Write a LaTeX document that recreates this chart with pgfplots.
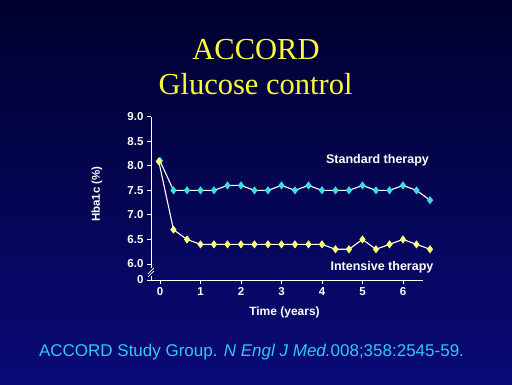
\documentclass[border=0pt]{standalone}
\usepackage{pgfplots}
\pgfplotsset{compat=1.18}
\usepackage{fontspec}
\setmainfont{Liberation Sans}
\newfontfamily\timesfont{Liberation Serif}
\definecolor{bgtop}{RGB}{0,0,46}
\definecolor{bgbot}{RGB}{10,10,120}
\definecolor{titleyellow}{RGB}{250,250,60}
\definecolor{citecyan}{RGB}{50,200,240}
\definecolor{stdcyan}{RGB}{60,220,230}
\definecolor{intyellow}{RGB}{255,255,120}
\begin{document}
\begin{tikzpicture}[x=1pt,y=1pt]
\shade[top color=bgtop, bottom color=bgbot] (0,0) rectangle (512,384);
\node[anchor=base, text=titleyellow, font=\timesfont\fontsize{30.5}{34}\selectfont] at (256,325) {ACCORD};
\node[anchor=base, text=titleyellow, font=\timesfont\fontsize{30.5}{34}\selectfont] at (255.5,290) {Glucose control};
\node[anchor=base, text=citecyan, font=\fontsize{17}{20}\selectfont] at (251.5,28) {ACCORD Study Group. \textit{N Engl J Med.}008;358:2545-59.};
\node[rotate=90, text=white, font=\bfseries\fontsize{11.5}{13}\selectfont] at (97,190) {Hba1c (\%)};
\node[text=white, font=\bfseries\fontsize{12}{14}\selectfont] at (284.5,72) {Time (years)};
\node[text=white, font=\bfseries\fontsize{12.5}{15}\selectfont] at (377.5,224) {Standard therapy};
\node[text=white, font=\bfseries\fontsize{12.5}{15}\selectfont] at (382,117) {Intensive therapy};
\begin{axis}[
  at={(151pt,104pt)}, anchor=south west,
  scale only axis, width=272pt, height=163.3pt,
  xmin=-0.222, xmax=6.494, ymin=5.674, ymax=9.0,
  clip=false,
  axis lines=left,
  axis line style={-, white, line width=1pt},
  y axis line style={draw=none},
  xtick={0,1,2,3,4,5,6},
  xticklabels={0,1,2,3,4,5,\raisebox{-4pt}{6}},
  ytick={5.674,6,6.5,7,7.5,8,8.5,9},
  yticklabels={0,6.0,6.5,7.0,7.5,8.0,8.5,9.0},
  tick style={white, line width=0.8pt},
  tick align=outside,
  major tick length=4pt,
  ticklabel style={text=white, font=\bfseries\fontsize{11.5}{13}\selectfont},
]
\addplot[white, line width=1.1pt, mark=diamond*, mark size=3.2pt, mark options={draw=stdcyan, fill=stdcyan}] coordinates {
(0,8.1) (0.333,7.5) (0.667,7.5) (1,7.5) (1.333,7.5) (1.667,7.6) (2,7.6) (2.333,7.5) (2.667,7.5) (3,7.6) (3.333,7.5) (3.667,7.6) (4,7.5) (4.333,7.5) (4.667,7.5) (5,7.6) (5.333,7.5) (5.667,7.5) (6,7.6) (6.333,7.5) (6.667,7.3)
};
\addplot[white, line width=1.1pt, mark=diamond*, mark size=3.2pt, mark options={draw=intyellow, fill=intyellow}] coordinates {
(-0.03,8.09) (0.333,6.7) (0.667,6.5) (1,6.4) (1.333,6.4) (1.667,6.4) (2,6.4) (2.333,6.4) (2.667,6.4) (3,6.4) (3.333,6.4) (3.667,6.4) (4,6.4) (4.333,6.3) (4.667,6.3) (5,6.5) (5.333,6.3) (5.667,6.4) (6,6.5) (6.333,6.4) (6.667,6.3)
};
\draw[white, line width=1pt] (axis cs:-0.222,9.0) -- (axis cs:-0.222,5.92);
\draw[white, line width=1pt] (axis cs:-0.222,5.76) -- (axis cs:-0.222,5.674);
\draw[white, line width=0.8pt] ([xshift=-3pt,yshift=-3pt]axis cs:-0.222,5.86) -- ([xshift=3pt,yshift=3pt]axis cs:-0.222,5.86);
\draw[white, line width=0.8pt] ([xshift=-3pt,yshift=-3pt]axis cs:-0.222,5.80) -- ([xshift=3pt,yshift=3pt]axis cs:-0.222,5.80);
\end{axis}
\end{tikzpicture}
\end{document}
